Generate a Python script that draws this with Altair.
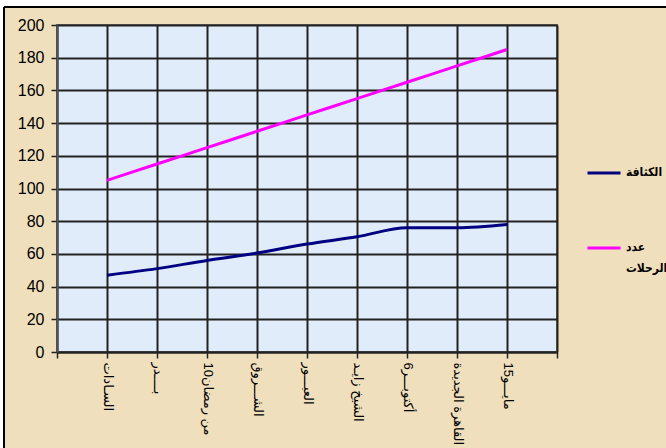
import altair as alt
import pandas as pd

# Metro stations along the category axis
stations = ["السـادات", "بــــدر", "10من رمضان", "الشـــروق", "العبـــور",
            "الشيخ زايـد", "6أكتوبـــر", "القاهرة الجديدة", "15مايـــو"]
# Series values per station
density = [47, 51, 56, 60.5, 66, 70.5, 76, 76, 78]
trips = [105, 115, 125, 135, 145, 155, 165, 175, 185]

series_names = ["الكثافة", "عدد الرحلات"]
series_colors = ["#000080", "#FF00FF"]
y_ticks = list(range(0, 201, 20))

# empty slots at both ends of the category axis
x_domain = [" "] + stations + ["  "]

rows = []
for name, values in zip(series_names, [density, trips]):
    for i, (st, v) in enumerate(zip(stations, values)):
        rows.append({"station": st, "value": v, "series": name, "idx": i})
df = pd.DataFrame(rows)

W, H = 500, 327

lines = alt.Chart(df).mark_line(strokeWidth=3, interpolate="monotone").encode(
    x=alt.X("station:N", title=None,
            scale=alt.Scale(type="point", domain=x_domain, padding=0),
            axis=alt.Axis(labelAngle=90, labelFontSize=13, labelColor="black",
                          labelFont="Liberation Sans, DejaVu Sans",
                          labelPadding=4, tickSize=6, tickWidth=1.5,
                          tickColor="#222222", domainColor="#222222",
                          domainWidth=2, labelOverlap=False, labelLimit=200,
                          grid=True)),
    y=alt.Y("value:Q", title=None,
            scale=alt.Scale(domain=[0, 200], nice=False),
            axis=alt.Axis(values=y_ticks, labelFontSize=16, labelColor="black",
                          labelFont="Liberation Sans", labelPadding=7,
                          tickSize=6, tickWidth=1.5, tickColor="#222222",
                          domainColor="#555555", domainWidth=2, grid=True)),
    color=alt.Color("series:N",
                    scale=alt.Scale(domain=series_names, range=series_colors),
                    legend=alt.Legend(title=None, orient="none",
                                      legendX=529, legendY=133,
                                      # short horizontal stroke, raised to sit level with the text
                                      symbolType="M-1,-0.18L1,-0.18",
                                      symbolSize=1089,
                                      symbolStrokeWidth=3, labelFontSize=12,
                                      labelFontWeight="bold",
                                      labelFont="DejaVu Sans Condensed, DejaVu Sans",
                                      labelColor="black", labelOffset=4,
                                      labelBaseline="alphabetic",
                                      labelLimit=300, rowPadding=53,
                                      labelExpr="datum.label == 'عدد الرحلات' ? ['عدد', 'الرحلات'] : datum.label")),
    order=alt.Order("idx:Q"),
)

# outer frame: white margin strips and black border lines
frame_src = alt.Chart(pd.DataFrame({"k": [0]}))
strip_top = frame_src.mark_rect(fill="white").encode(
    x=alt.value(-57), x2=alt.value(620), y=alt.value(-25), y2=alt.value(-18))
strip_left = frame_src.mark_rect(fill="white").encode(
    x=alt.value(-57), x2=alt.value(-53), y=alt.value(-25), y2=alt.value(430))
border_top = frame_src.mark_rule(color="black", strokeWidth=2).encode(
    x=alt.value(-53), x2=alt.value(620), y=alt.value(-18))
border_left = frame_src.mark_rule(color="black", strokeWidth=2).encode(
    x=alt.value(-53), y=alt.value(-18), y2=alt.value(430))

chart = alt.layer(strip_top, strip_left, border_top, border_left, lines).properties(
    width=W, height=H,
    autosize=alt.AutoSizeParams(type="none"),
    padding={"left": 57, "top": 25, "right": 109, "bottom": 96},
).configure(
    background="#F0DFBC",
    style={"guide-label": {"lineHeight": 21}},
).configure_view(
    fill="#E0ECF9", stroke="#6E6E6E", strokeWidth=2,
).configure_axis(
    gridColor="#222222", gridWidth=2, gridOpacity=1,
)

chart.save("out.html", embed_options={"renderer": "svg", "actions": False})
